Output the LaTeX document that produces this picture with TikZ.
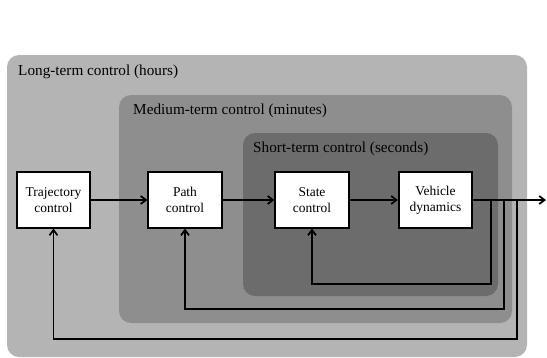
\documentclass[tikz,border=0pt]{standalone}
\usepackage{fontspec}
\setmainfont{Liberation Serif}
\usetikzlibrary{positioning, arrows.meta, calc}
\definecolor{longgray}{HTML}{B4B4B4}
\definecolor{medgray}{HTML}{8E8E8E}
\definecolor{shortgray}{HTML}{6C6C6C}

\begin{document}
\begin{tikzpicture}[x=0.03cm, y=-0.03cm,
  zone/.style={rounded corners=0.36cm},
  zonelabel/.style={anchor=base west, inner sep=0pt, font=\fontsize{13}{15}\selectfont},
  block/.style={draw, line width=1.5pt, fill=white, align=center,
    minimum width=2.2cm, minimum height=1.66cm, inner sep=0pt,
    font=\fontsize{11.5}{13.8}\selectfont},
  flow/.style={line width=1.5pt, -{Straight Barb[length=1.6mm, width=2.4mm]}}]
  \useasboundingbox (0,0) rectangle (547,358);
  % nested time scales
  \fill[longgray, zone]  (7,55) rectangle (527,357);
  \fill[medgray, zone]   (119,95) rectangle (512,323);
  \fill[shortgray, zone] (243,133) rectangle (498,296);
  \node[zonelabel] (longlbl)  at (18,75)  {Long-term control (hours)};
  \node[zonelabel] (medlbl)   at (133,114) {Medium-term control (minutes)};
  \node[zonelabel] (shortlbl) at (253,152) {Short-term control (seconds)};
  % blocks
  \node[block] (traj)  at (53.5,200)  {Trajectory\\control};
  \node[block] (path)  at (185,200)   {Path\\control};
  \node[block] (state) at (312,200)   {State\\control};
  \node[block] (veh)   at (435.5,200) {Vehicle\\dynamics};
  \coordinate (out)  at (546,200);
  \coordinate (tapS) at (491,200);
  \coordinate (tapM) at (504,200);
  \coordinate (tapL) at (517,200);
  % forward chain
  \draw[flow] (traj) -- (path);
  \draw[flow] (path) -- (state);
  \draw[flow] (state) -- (veh);
  \draw[flow] (veh) -- (out);
  % feedback loops
  \draw[flow] (tapS) -- (491,284) -| (state.south);
  \draw[flow] (tapM) -- (504,309) -| (path.south);
  \draw[flow] (tapL) -- (517,339) -| (traj.south);
\end{tikzpicture}
\end{document}
